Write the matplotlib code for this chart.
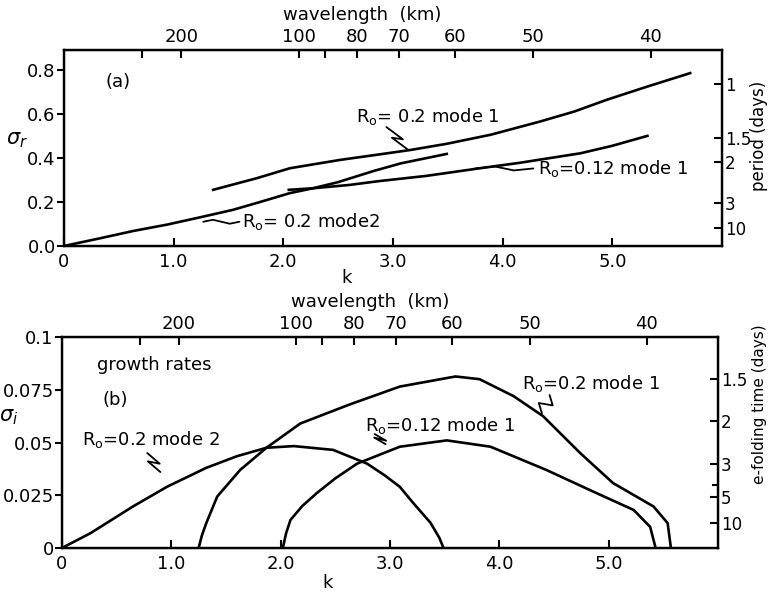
import numpy as np
import matplotlib
matplotlib.use("Agg")
import matplotlib.pyplot as plt

# ---- data ----
# (a) real part sigma_r vs k
k_a_02_m1 = [1.36, 1.76, 2.06, 2.52, 2.85, 3.16, 3.49, 3.89, 4.34, 4.65, 4.95, 5.32, 5.71]
sr_02_m1 = [0.255, 0.308, 0.353, 0.391, 0.414, 0.436, 0.464, 0.505, 0.565, 0.61, 0.664, 0.724, 0.785]

k_a_02_m2 = [0.0, 0.33, 0.63, 0.94, 1.24, 1.54, 1.79, 2.06, 2.27, 2.5, 2.82, 3.07, 3.49]
sr_02_m2 = [0.0, 0.035, 0.068, 0.097, 0.13, 0.164, 0.20, 0.24, 0.262, 0.29, 0.34, 0.375, 0.418]

k_a_012_m1 = [2.05, 2.27, 2.6, 2.88, 3.3, 3.75, 4.16, 4.71, 5.0, 5.32]
sr_012_m1 = [0.255, 0.262, 0.277, 0.295, 0.318, 0.350, 0.378, 0.421, 0.455, 0.50]

# (b) growth rates sigma_i vs k
k_b_02_m2 = [0.0, 0.26, 0.65, 0.96, 1.32, 1.6, 1.87, 2.12, 2.48, 2.79, 2.95, 3.09, 3.21, 3.37, 3.45, 3.49]
si_02_m2 = [0.0, 0.007, 0.0197, 0.029, 0.038, 0.0435, 0.0475, 0.0483, 0.0465, 0.040, 0.0345, 0.029, 0.0215, 0.012, 0.005, 0.0]

k_b_02_m1 = [1.25, 1.28, 1.32, 1.42, 1.63, 1.87, 2.18, 2.63, 3.09, 3.6, 3.82, 4.13, 4.4, 4.74, 5.04, 5.41, 5.54, 5.57]
si_02_m1 = [0.0, 0.006, 0.0118, 0.0244, 0.037, 0.0475, 0.059, 0.068, 0.0765, 0.0813, 0.080, 0.072, 0.0625, 0.045, 0.0308, 0.0197, 0.0118, 0.0]

k_b_012_m1 = [2.02, 2.05, 2.09, 2.2, 2.33, 2.5, 2.7, 3.09, 3.52, 3.92, 4.43, 4.89, 5.23, 5.38, 5.43]
si_012_m1 = [0.0, 0.007, 0.0133, 0.02, 0.026, 0.033, 0.040, 0.048, 0.051, 0.048, 0.037, 0.026, 0.018, 0.010, 0.0]

# axis ticks
k_ticks = [0, 1, 2, 3, 4, 5]
k_labels = ["0", "1.0", "2.0", "3.0", "4.0", "5.0"]
wl_const = 214.0  # k = wl_const / wavelength
wl_major = [200, 100, 80, 70, 60, 50, 40]
wl_minor = [300, 90]
sr_ticks = [0.0, 0.2, 0.4, 0.6, 0.8]
sr_labels = ["0.0", "0.2", "0.4", "0.6", "0.8"]
si_ticks = [0.0, 0.025, 0.05, 0.075, 0.1]
si_labels = ["0", "0.025", "0.05", "0.075", "0.1"]
period_pos = [0.735, 0.49, 0.38, 0.195, 0.08]
period_labels = ["1", "1.5", "2", "3", "10"]
efold_pos = [0.08, 0.06, 0.04, 0.024, 0.012]
efold_labels = ["1.5", "2", "3", "5", "10"]

LW = 1.9
FS = 13

plt.rcParams['font.family'] = ['DejaVu Sans']
plt.rcParams['mathtext.fontset'] = 'dejavusans'

fig = plt.figure(figsize=(7.69, 5.95), dpi=100)
ax1 = fig.add_axes([0.0832, 0.5866, 0.8557, 0.3294])
ax2 = fig.add_axes([0.0806, 0.079, 0.853, 0.3546])


def zigzag(ax, p0, p1):
    # little lightning-bolt leader between label and curve
    x0, y0 = p0
    x1, y1 = p1
    ylo, yhi = ax.get_ylim()
    dx = x1 - x0
    dy = y1 - y0
    ox = 0.06
    oy = 0.06 * (yhi - ylo) / 6.0
    xs = [x0, x0 + 0.45 * dx + ox, x0 + 0.55 * dx - ox, x1]
    ys = [y0, y0 + 0.45 * dy - oy, y0 + 0.55 * dy + oy, y1]
    ax.plot(xs, ys, color='black', lw=1.3, solid_capstyle='round')


def style_axes(ax, ymax, yticks, ylabels, rpos, rlabels):
    ax.set_xlim(0, 6.0)
    ax.set_ylim(0, ymax)
    for s in ax.spines.values():
        s.set_linewidth(1.6)
    ax.set_xticks(k_ticks)
    ax.set_xticklabels(k_labels, fontsize=FS)
    ax.set_yticks(yticks)
    ax.set_yticklabels(ylabels, fontsize=FS)
    ax.tick_params(axis='x', direction='in', length=6, width=1.5, pad=5)
    ax.tick_params(axis='y', direction='out', length=5, width=1.5, pad=1)

    # top axis: wavelength
    top = ax.twiny()
    top.set_xlim(ax.get_xlim())
    top.set_xticks([wl_const / w for w in wl_major])
    top.set_xticklabels([str(w) for w in wl_major], fontsize=FS)
    top.set_xticks([wl_const / w for w in wl_minor], minor=True)
    top.tick_params(axis='x', which='both', direction='in', length=6, width=1.5, pad=3)
    for s in top.spines.values():
        s.set_linewidth(1.6)

    # right axis: time in days
    right = ax.twinx()
    right.set_ylim(ax.get_ylim())
    right.set_yticks(rpos)
    right.set_yticklabels(rlabels, fontsize=12)
    right.tick_params(axis='y', direction='in', length=6, width=1.5, pad=2)
    return top, right


# ---- panel (a) ----
ax1.plot(k_a_02_m1, sr_02_m1, color='black', lw=LW)
ax1.plot(k_a_02_m2, sr_02_m2, color='black', lw=LW)
ax1.plot(k_a_012_m1, sr_012_m1, color='black', lw=LW)
top1, right1 = style_axes(ax1, 0.89, sr_ticks, sr_labels, period_pos, period_labels)

ax1.text(0.49, 0.745, "(a)", fontsize=FS, ha='center', va='center')
ax1.text(2.66, 0.59, r"R$_{\rm o}$= 0.2 mode 1", fontsize=FS, ha='left', va='center')
ax1.text(4.32, 0.354, r"R$_{\rm o}$=0.12 mode 1", fontsize=FS, ha='left', va='center')
ax1.text(1.62, 0.11, r"R$_{\rm o}$= 0.2 mode2", fontsize=FS, ha='left', va='center')
zigzag(ax1, (2.94, 0.54), (3.14, 0.436))
zigzag(ax1, (4.28, 0.352), (3.75, 0.352))
zigzag(ax1, (1.6, 0.11), (1.27, 0.11))

ax1.text(-0.43, 0.48, r"$\sigma_r$", fontsize=15, ha='center', va='center')
ax1.text(2.58, -0.145, "k", fontsize=FS, ha='center', va='center')
ax1.text(2.72, 1.05, "wavelength  (km)", fontsize=FS, ha='center', va='center')
ax1.text(6.34, 0.50, "period (days)", fontsize=12, ha='center', va='center', rotation=90)

# ---- panel (b) ----
ax2.plot(k_b_02_m2, si_02_m2, color='black', lw=LW)
ax2.plot(k_b_02_m1, si_02_m1, color='black', lw=LW)
ax2.plot(k_b_012_m1, si_012_m1, color='black', lw=LW)
top2, right2 = style_axes(ax2, 0.1, si_ticks, si_labels, efold_pos, efold_labels)
right2.set_yticks([0.03], minor=True)
right2.tick_params(axis='y', which='minor', direction='in', length=4, width=1.5)

ax2.text(0.32, 0.0867, "growth rates", fontsize=FS, ha='left', va='center')
ax2.text(0.37, 0.070, "(b)", fontsize=FS, ha='left', va='center')
ax2.text(0.18, 0.0512, r"R$_{\rm o}$=0.2 mode 2", fontsize=FS, ha='left', va='center')
ax2.text(2.77, 0.058, r"R$_{\rm o}$=0.12 mode 1", fontsize=FS, ha='left', va='center')
ax2.text(4.21, 0.078, r"R$_{\rm o}$=0.2 mode 1", fontsize=FS, ha='left', va='center')
zigzag(ax2, (0.78, 0.045), (0.9, 0.036))
zigzag(ax2, (2.86, 0.054), (2.96, 0.0492))
zigzag(ax2, (4.46, 0.0725), (4.39, 0.0638))

ax2.text(-0.49, 0.062, r"$\sigma_i$", fontsize=15, ha='center', va='center')
ax2.text(2.43, -0.0165, "k", fontsize=FS, ha='center', va='center')
ax2.text(2.82, 0.1165, "wavelength  (km)", fontsize=FS, ha='center', va='center')
ax2.text(6.38, 0.068, "e-folding time (days)", fontsize=11, ha='center', va='center', rotation=90)

fig.savefig("out.png", dpi=100)
